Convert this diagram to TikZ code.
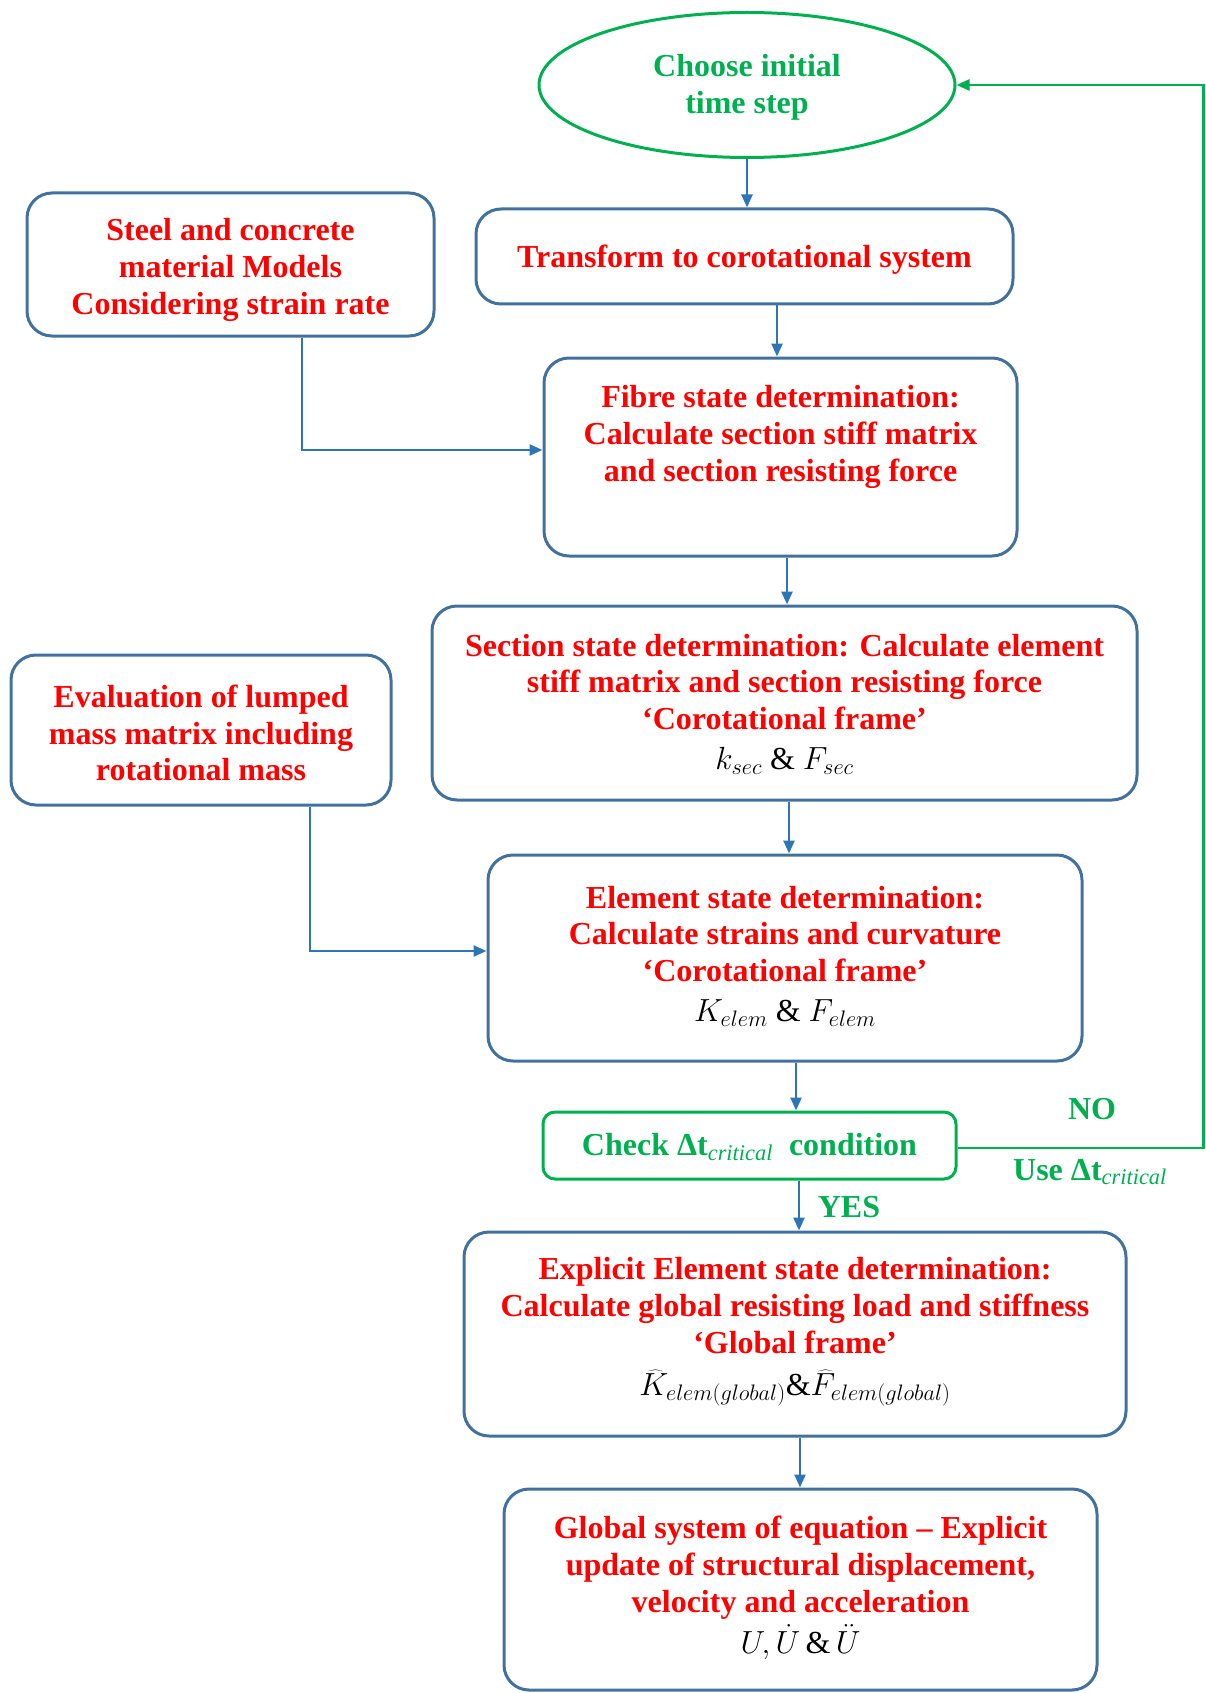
\RequirePackage{fix-cm}
\documentclass[tikz,border=0pt]{standalone}
\usepackage{fontspec}
\setmainfont{Liberation Serif}
\usetikzlibrary{shapes.geometric,arrows.meta,calc}
\definecolor{boxblue}{HTML}{41719C}
\definecolor{arrblue}{HTML}{2E75B6}
\definecolor{okgreen}{HTML}{00B050}
\definecolor{txtred}{HTML}{FF0000}
\newcommand{\mathblk}[1]{{\color{black}\normalfont #1}}
\begin{document}
\begin{tikzpicture}[x=1pt,y=-1pt,
  box/.style={draw=boxblue,line width=3pt,rounded corners=25pt,inner sep=0pt},
  gbox/.style={draw=okgreen,line width=3pt,rounded corners=12pt,inner sep=0pt},
  txt/.style={text=txtred,font=\bfseries\fontsize{32}{36.8}\selectfont,align=center,inner sep=0pt},
  gtxt/.style={text=okgreen,font=\bfseries\fontsize{32}{36.8}\selectfont,align=center,inner sep=0pt},
  arr/.style={draw=arrblue,line width=2.5pt,-{Triangle[length=13pt,width=11pt]}},
  garr/.style={draw=okgreen,line width=2.5pt,-{Triangle[length=13pt,width=11pt]}}]
\useasboundingbox (0,0) rectangle (1206,1693);

% boxes
\node[ellipse,draw=okgreen,line width=3pt,minimum width=416pt,minimum height=145pt,inner sep=0pt] (start) at (747,85) {};
\node[gtxt] (startt) at (747,87) {Choose initial\\time step};

\node[box,minimum width=537pt,minimum height=95pt] (transform) at (744.5,256.5) {};
\node[txt] (transformt) at (744.5,260) {Transform to corotational system};

\node[box,minimum width=407pt,minimum height=143pt] (steel) at (230.5,264.5) {};
\node[txt] (steelt) at (230.5,270) {Steel and concrete\\material Models\\Considering strain rate};

\node[box,minimum width=473pt,minimum height=198pt] (fibre) at (780.5,457) {};
\node[txt] (fibret) at (780.5,437) {Fibre state determination:\\Calculate section stiff matrix\\and section resisting force};

\node[box,minimum width=705pt,minimum height=194pt] (section) at (784.5,703) {};
\node[txt] (sectiont) at (784.5,704) {Section state determination: Calculate element\\stiff matrix and section resisting force\\‘Corotational frame’\\[3pt]\mathblk{$k_{sec}$ \& $F_{sec}$}};

\node[box,minimum width=380pt,minimum height=150pt] (eval) at (201,730) {};
\node[txt] (evalt) at (201,733) {Evaluation of lumped\\mass matrix including\\rotational mass};

\node[box,minimum width=594pt,minimum height=206pt] (element) at (785,958) {};
\node[txt] (elementt) at (785,956) {Element state determination:\\Calculate strains and curvature\\‘Corotational frame’\\[3pt]\mathblk{$K_{elem}$ \& $F_{elem}$}};

\node[gbox,minimum width=413pt,minimum height=67pt] (check) at (749.5,1145.5) {};
\node[gtxt] (checkt) at (749.5,1147) {Check Δt\textsubscript{\normalfont\itshape critical}\ \ condition};

\node[box,minimum width=662pt,minimum height=204pt] (explicit) at (795,1334) {};
\node[txt] (explicitt) at (795,1332) {Explicit Element state determination:\\Calculate global resisting load and stiffness\\‘Global frame’\\[5pt]\mathblk{$\widehat{K}_{elem(global)}$\&$\widehat{F}_{elem(global)}$}};

\node[box,minimum width=593pt,minimum height=201pt] (global) at (800.5,1589.5) {};
\node[txt] (globalt) at (800.5,1588) {Global system of equation -- Explicit\\update of structural displacement,\\velocity and acceleration\\[5pt]\mathblk{$U,\dot{U}$\,\&\,$\ddot{U}$}};

% labels
\node[gtxt] (no) at (1092,1109) {NO};
\node[gtxt] (use) at (1090,1172) {Use Δt\textsubscript{\normalfont\itshape critical}};
\node[gtxt] (yes) at (849,1207) {YES};

% helper coordinates
\coordinate (c1) at (777,0);
\coordinate (c2) at (302,450);
\coordinate (c4) at (787,0);
\coordinate (c5) at (789,0);
\coordinate (c6) at (310,951);
\coordinate (c7) at (796,0);
\coordinate (c8) at (799,0);
\coordinate (c9) at (800,0);
\coordinate (c10) at (1203.5,1148);

% connectors
\draw[arr] (start.south) -- (start.south |- transform.north);
\draw[arr] (transform.south -| c1) -- (fibre.north -| c1);
\draw[arr] (steel.south -| c2) |- (fibre.west |- c2);
\draw[arr] (fibre.south -| c4) -- (section.north -| c4);
\draw[arr] (section.south -| c5) -- (element.north -| c5);
\draw[arr] (eval.south -| c6) |- (element.west |- c6);
\draw[arr] (element.south -| c7) -- (check.north -| c7);
\draw[arr] (check.south -| c8) -- (explicit.north -| c8);
\draw[arr] (explicit.south -| c9) -- (global.north -| c9);
\draw[garr] (check.east |- c10) -- (c10) -- (c10 |- start.east) -- (start.east);
\end{tikzpicture}
\end{document}
